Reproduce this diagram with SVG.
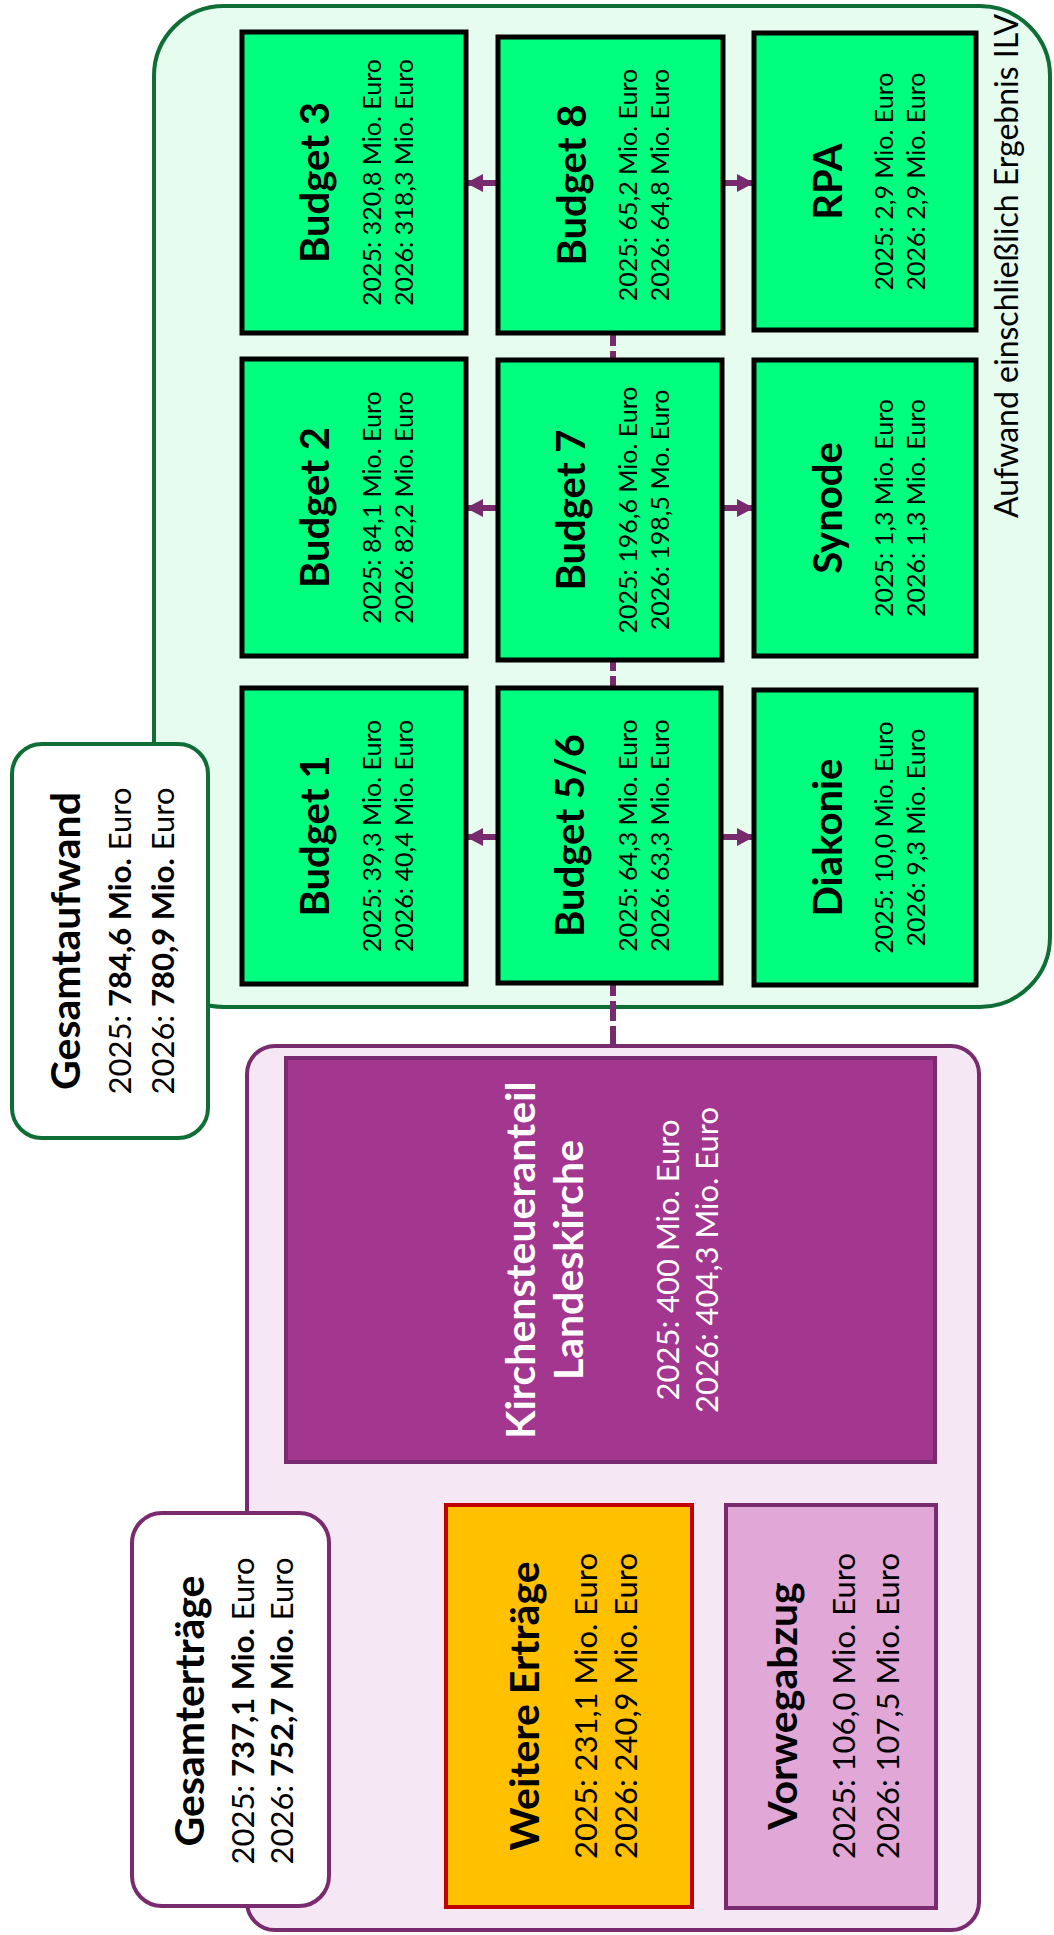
<svg xmlns="http://www.w3.org/2000/svg" width="1054" height="1935" viewBox="0 0 1054 1935">
<style>
text{font-family:Lato,"Liberation Sans",sans-serif;text-anchor:middle;fill:#000}
.ti{font-weight:700;font-size:40px}
.tb{font-weight:700;font-size:41px}
.v{font-size:25px}
.vb{font-size:31px}
.b{font-weight:700}
.w{fill:#fff}
.gb{fill:#00FF7F;stroke:#000;stroke-width:5}
.con{fill:none;stroke:#772A6C;stroke-width:6;stroke-dasharray:20 5}
</style>
<defs>
<marker id="ah" markerUnits="userSpaceOnUse" markerWidth="17" markerHeight="18" viewBox="0 0 17 18" refX="17" refY="9" orient="auto">
<path d="M0,0 L17,9 L0,18 z" fill="#772A6C"/>
</marker>
</defs>
<rect width="1054" height="1935" fill="#fff"/>
<g id="container-aufwand">
<rect x="154" y="6" width="896" height="1001" rx="70" fill="#E5FCEF" stroke="#0E6E36" stroke-width="4"/>
<text transform="translate(1018,266) rotate(-90)" style="font-size:32px">Aufwand einschließlich Ergebnis ILV</text>
</g>
<g id="container-ertraege">
<rect x="247" y="1046" width="732" height="884" rx="28" fill="#F5E7F3" stroke="#7A2A6E" stroke-width="4"/>
</g>
<g id="connectors">
<path class="con" d="M613,1046 V333"/>
<path class="con" d="M497,183 H466" marker-end="url(#ah)"/>
<path class="con" d="M722,183 H754" marker-end="url(#ah)"/>
<path class="con" d="M497,508 H466" marker-end="url(#ah)"/>
<path class="con" d="M722,508 H754" marker-end="url(#ah)"/>
<path class="con" d="M497,837 H466" marker-end="url(#ah)"/>
<path class="con" d="M722,837 H754" marker-end="url(#ah)"/>
</g>
<g id="budget3">
<rect class="gb" x="242" y="32" width="224" height="301"/>
<text class="ti" transform="translate(329,182.5) rotate(-90)">Budget 3</text>
<text class="v" transform="translate(381,182.5) rotate(-90)">2025: 320,8 Mio. Euro</text>
<text class="v" transform="translate(413,182.5) rotate(-90)">2026: 318,3 Mio. Euro</text>
</g>
<g id="budget8">
<rect class="gb" x="498" y="37" width="225" height="296"/>
<text class="ti" transform="translate(586,185) rotate(-90)">Budget 8</text>
<text class="v" transform="translate(637,185) rotate(-90)">2025: 65,2 Mio. Euro</text>
<text class="v" transform="translate(669,185) rotate(-90)">2026: 64,8 Mio. Euro</text>
</g>
<g id="rpa">
<rect class="gb" x="754" y="33" width="222" height="297"/>
<text class="ti" transform="translate(842,181.5) rotate(-90)">RPA</text>
<text class="v" transform="translate(893,181.5) rotate(-90)">2025: 2,9 Mio. Euro</text>
<text class="v" transform="translate(925,181.5) rotate(-90)">2026: 2,9 Mio. Euro</text>
</g>
<g id="budget2">
<rect class="gb" x="242" y="359" width="224" height="297"/>
<text class="ti" transform="translate(329,507.5) rotate(-90)">Budget 2</text>
<text class="v" transform="translate(381,507.5) rotate(-90)">2025: 84,1 Mio. Euro</text>
<text class="v" transform="translate(413,507.5) rotate(-90)">2026: 82,2 Mio. Euro</text>
</g>
<g id="budget7">
<rect class="gb" x="498" y="360" width="224" height="300"/>
<text class="ti" transform="translate(585,510) rotate(-90)">Budget 7</text>
<text class="v" transform="translate(637,510) rotate(-90)">2025: 196,6 Mio. Euro</text>
<text class="v" transform="translate(669,510) rotate(-90)">2026: 198,5 Mo. Euro</text>
</g>
<g id="synode">
<rect class="gb" x="754" y="360" width="222" height="296"/>
<text class="ti" transform="translate(842,508) rotate(-90)">Synode</text>
<text class="v" transform="translate(893,508) rotate(-90)">2025: 1,3 Mio. Euro</text>
<text class="v" transform="translate(925,508) rotate(-90)">2026: 1,3 Mio. Euro</text>
</g>
<g id="budget1">
<rect class="gb" x="242" y="688" width="224" height="296"/>
<text class="ti" transform="translate(329,836) rotate(-90)">Budget 1</text>
<text class="v" transform="translate(381,836) rotate(-90)">2025: 39,3 Mio. Euro</text>
<text class="v" transform="translate(413,836) rotate(-90)">2026: 40,4 Mio. Euro</text>
</g>
<g id="budget56">
<rect class="gb" x="498" y="688" width="223" height="295"/>
<text class="ti" transform="translate(584,835.5) rotate(-90)">Budget 5/6</text>
<text class="v" transform="translate(637,835.5) rotate(-90)">2025: 64,3 Mio. Euro</text>
<text class="v" transform="translate(669,835.5) rotate(-90)">2026: 63,3 Mio. Euro</text>
</g>
<g id="diakonie">
<rect class="gb" x="754" y="690" width="222" height="295"/>
<text class="ti" transform="translate(842,837.5) rotate(-90)">Diakonie</text>
<text class="v" transform="translate(893,837.5) rotate(-90)">2025: 10,0 Mio. Euro</text>
<text class="v" transform="translate(925,837.5) rotate(-90)">2026: 9,3 Mio. Euro</text>
</g>
<g id="kirchensteuer">
<rect x="286" y="1058" width="649" height="404" fill="#A3368F" stroke="#7A2A6E" stroke-width="4"/>
<text class="tb w" transform="translate(535,1260) rotate(-90)">Kirchensteueranteil</text>
<text class="tb w" transform="translate(583,1260) rotate(-90)">Landeskirche</text>
<text class="vb w" transform="translate(679,1260) rotate(-90)">2025: 400 Mio. Euro</text>
<text class="vb w" transform="translate(718,1260) rotate(-90)">2026: 404,3 Mio. Euro</text>
</g>
<g id="weitere">
<rect x="446" y="1505" width="246" height="402" fill="#FFC000" stroke="#C00000" stroke-width="4"/>
<text class="tb" transform="translate(539,1706) rotate(-90)">Weitere Erträge</text>
<text class="vb" transform="translate(597,1706) rotate(-90)">2025: 231,1 Mio. Euro</text>
<text class="vb" transform="translate(637,1706) rotate(-90)">2026: 240,9 Mio. Euro</text>
</g>
<g id="vorwegabzug">
<rect x="726" y="1505" width="210" height="403" fill="#E1A7D7" stroke="#7A2A6E" stroke-width="4"/>
<text class="tb" transform="translate(797,1706) rotate(-90)">Vorwegabzug</text>
<text class="vb" transform="translate(855,1706) rotate(-90)">2025: 106,0 Mio. Euro</text>
<text class="vb" transform="translate(899,1706) rotate(-90)">2026: 107,5 Mio. Euro</text>
</g>
<g id="gesamtaufwand">
<rect x="12" y="744" width="196" height="394" rx="30" fill="#fff" stroke="#0E6E36" stroke-width="4"/>
<text class="tb" transform="translate(80,941) rotate(-90)">Gesamtaufwand</text>
<text class="vb" transform="translate(131,941) rotate(-90)">2025: <tspan class="b">784,6 Mio.</tspan> Euro</text>
<text class="vb" transform="translate(174,941) rotate(-90)">2026: <tspan class="b">780,9 Mio.</tspan> Euro</text>
</g>
<g id="gesamtertraege">
<rect x="132" y="1513" width="197" height="393" rx="30" fill="#fff" stroke="#7A2A6E" stroke-width="4"/>
<text class="tb" transform="translate(204,1711) rotate(-90)">Gesamterträge</text>
<text class="vb" transform="translate(254,1711) rotate(-90)">2025: <tspan class="b">737,1 Mio.</tspan> Euro</text>
<text class="vb" transform="translate(293,1711) rotate(-90)">2026: <tspan class="b">752,7 Mio.</tspan> Euro</text>
</g>
</svg>
